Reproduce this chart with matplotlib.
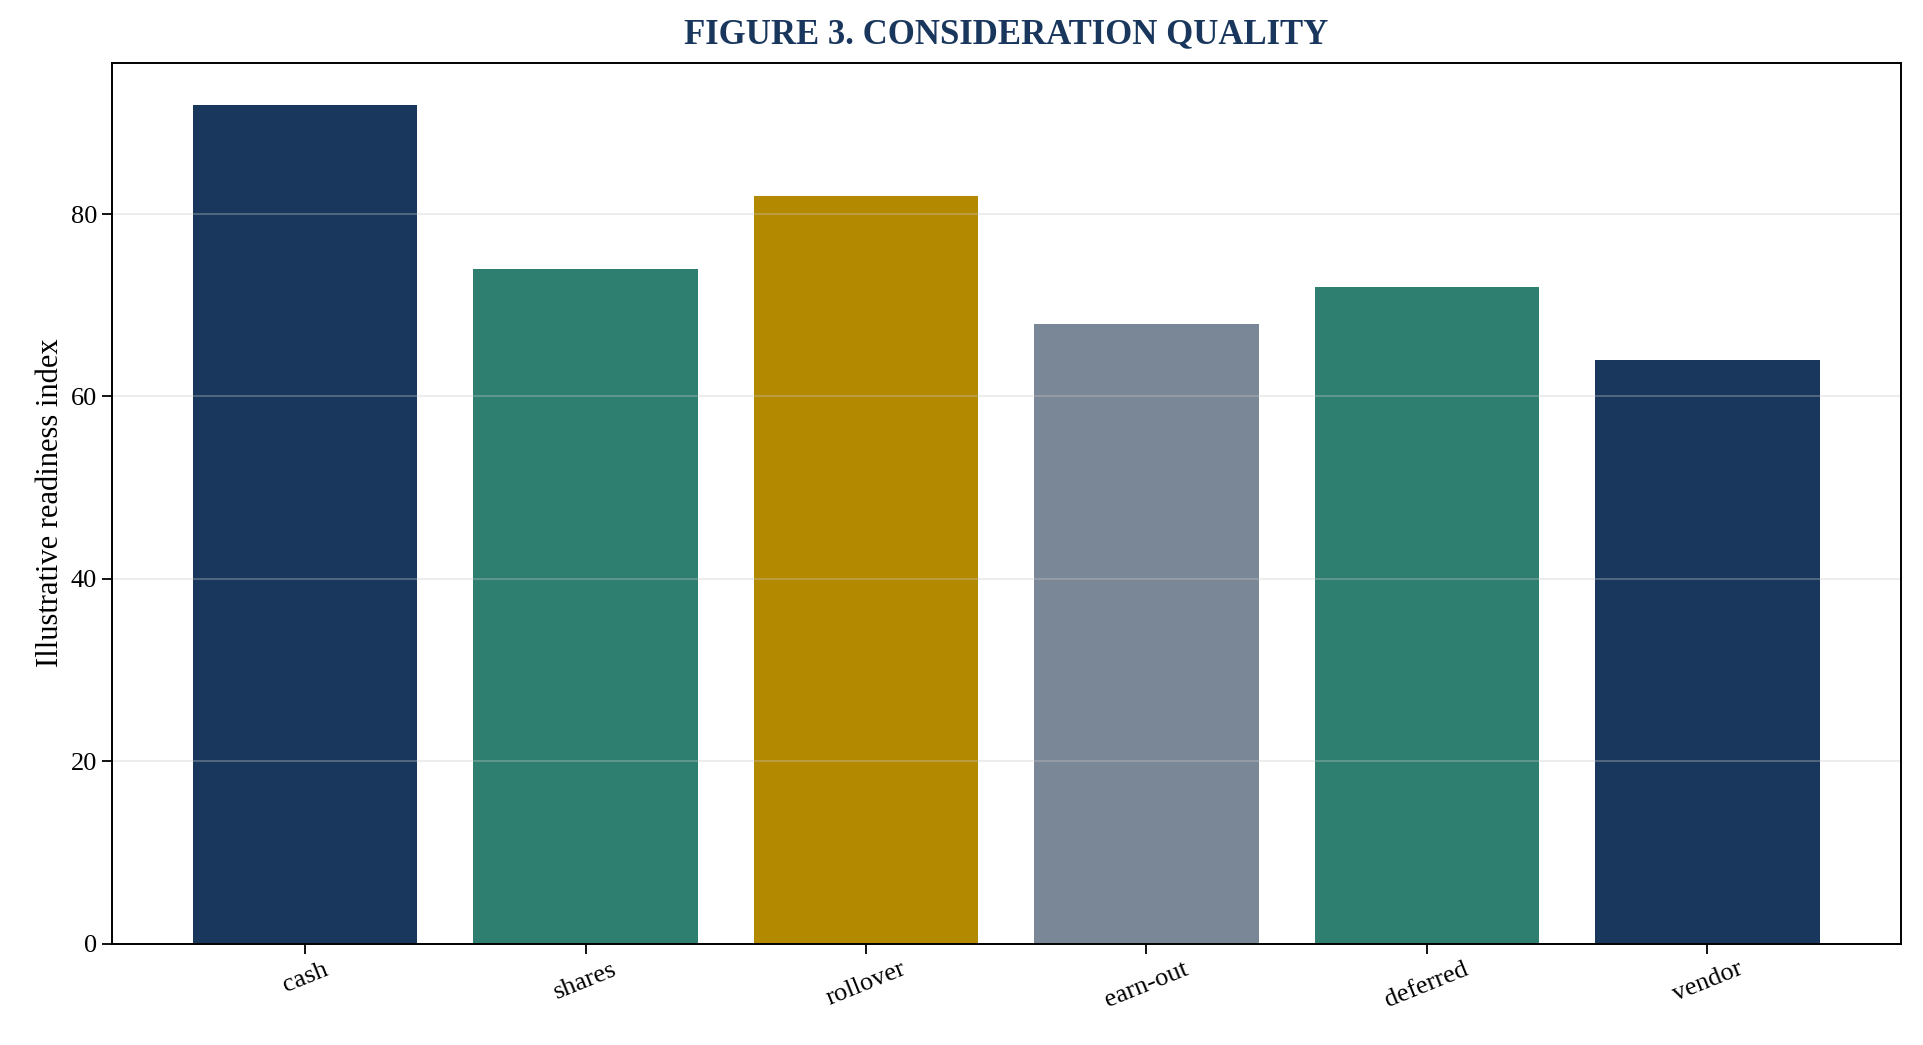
import matplotlib
matplotlib.use("Agg")
import matplotlib.pyplot as plt

font = {'family': 'serif', 'serif': ['Liberation Serif', 'DejaVu Serif'], 'size': 19}
matplotlib.rc('font', **font)

categories = ["cash", "shares", "rollover", "earn-out", "deferred", "vendor"]
values = [92, 74, 82, 68, 72, 64]
colors = ["#19375D", "#2F7F70", "#B38900", "#7A8797", "#2F7F70", "#19375D"]

fig, ax = plt.subplots(figsize=(19.24, 10.45), dpi=100)
fig.subplots_adjust(left=0.058, right=0.988, top=0.94, bottom=0.097)

ax.bar(categories, values, color=colors, width=0.8)
ax.grid(axis='y', color='#c8c8c8', linewidth=1.3, alpha=0.35)
ax.set_ylabel("Illustrative readiness index", fontsize=22)
ax.set_title("FIGURE 3. CONSIDERATION QUALITY", fontsize=25, fontweight='bold',
             color="#19375D", pad=14)
ax.tick_params(axis='both', labelsize=19, length=7, width=1.3)
plt.setp(ax.get_xticklabels(), rotation=22)
for sp in ax.spines.values():
    sp.set_linewidth(1.4)

plt.savefig("out.png", dpi=100)
